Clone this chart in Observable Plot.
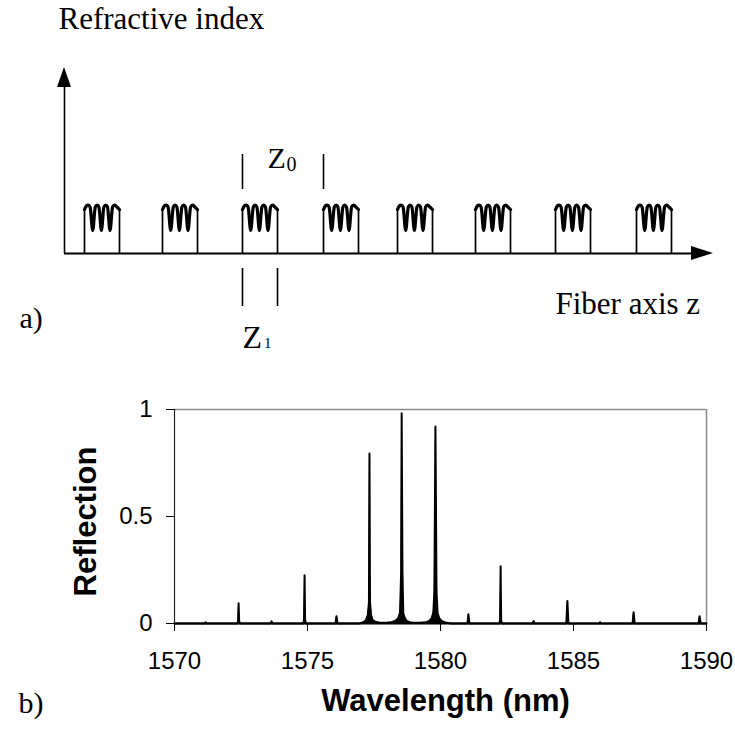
<!DOCTYPE html>
<html><head><meta charset="utf-8">
<script src="https://cdn.jsdelivr.net/npm/d3@7"></script>
<script src="https://cdn.jsdelivr.net/npm/@observablehq/plot@0.6"></script>
<style>
body{margin:0;background:#fff}
#wrap{position:relative;width:735px;height:737px;background:#fff}
#wrap svg{display:block}
</style>
</head><body><div id="wrap"></div>
<script>
// ---------- schematic data (a) ----------
const gratingStart = [20, 98, 178, 259, 333, 411, 491, 572];
const gratingLength = 35;           // Z1
const waveDx    = [0, 1.8, 3.8, 5.6, 8.2, 10.8, 12.6, 14.4, 16.9, 19.4, 21.2, 23, 25.5, 28.1, 30, 31.9, 35];
const waveLevel = [44, 47.5, 48.5, 46.5, 23, 46.5, 48.5, 46.5, 23, 46.5, 48.5, 46.5, 23, 46.5, 48.5, 47, 44];

// ---------- spectrum data (b) ----------
const wavelength = [
  1570.00,
  1571.13, 1571.17, 1571.21,
  1572.36, 1572.39, 1572.41, 1572.43, 1572.46,
  1573.61, 1573.65, 1573.69,
  1574.84, 1574.87, 1574.89, 1574.91, 1574.94,
  1576.05, 1576.09, 1576.13,
  1576.95, 1577.10, 1577.20, 1577.27, 1577.31, 1577.33, 1577.35, 1577.39, 1577.45, 1577.55, 1577.72,
  1577.95, 1578.15, 1578.30, 1578.41, 1578.48, 1578.52, 1578.54, 1578.57, 1578.60, 1578.62, 1578.66, 1578.73, 1578.84, 1578.98, 1579.20,
  1579.45, 1579.58, 1579.67, 1579.73, 1579.77, 1579.81, 1579.85, 1579.89, 1579.95, 1580.04, 1580.18, 1580.40,
  1581.01, 1581.05, 1581.09,
  1582.21, 1582.24, 1582.26, 1582.28, 1582.31,
  1583.46, 1583.50, 1583.54,
  1584.73, 1584.77, 1584.81,
  1585.96, 1586.00, 1586.04,
  1587.22, 1587.26, 1587.30,
  1589.70, 1589.74, 1589.78,
  1590.00
];
const reflection = [
  0,
  0, 0.006, 0,
  0, 0.012, 0.095, 0.012, 0,
  0, 0.010, 0,
  0, 0.018, 0.226, 0.018, 0,
  0, 0.034, 0,
  0, 0.006, 0.016, 0.040, 0.100, 0.794, 0.100, 0.040, 0.016, 0.008, 0.004,
  0.004, 0.006, 0.012, 0.025, 0.050, 0.240, 0.982, 0.240, 0.050, 0.040, 0.025, 0.012, 0.006, 0.004, 0.004,
  0.006, 0.012, 0.025, 0.050, 0.150, 0.920, 0.150, 0.050, 0.025, 0.012, 0.005, 0,
  0, 0.043, 0,
  0, 0.015, 0.268, 0.015, 0,
  0, 0.012, 0,
  0, 0.105, 0,
  0, 0.006, 0,
  0, 0.053, 0,
  0, 0.034, 0,
  0
];
const xTicks = [1570, 1575, 1580, 1585, 1590];
const yTicks = [0, 0.5, 1];

const serif = "'Liberation Serif', 'Times New Roman', serif";
const sans = "'Liberation Sans', Arial, sans-serif";

// ---------- (a) schematic ----------
const waveRows = gratingStart.flatMap((s, g) => waveDx.map((dx, i) => ({g, z: s + dx, n: waveLevel[i]})));
const legs = gratingStart.flatMap(s => [s, s + gratingLength]);
const zMax = 650, nMax = 186;

const topPlot = Plot.plot({
  width: 735, height: 360, margin: 0,
  style: {background: "white", color: "black"},
  x: {domain: [0, zMax], range: [64, 714], axis: null},
  y: {domain: [0, nMax], range: [253, 67], axis: null},
  marks: [
    Plot.ruleY([0], {x1: 0, x2: zMax - 20, stroke: "black", strokeWidth: 2}),
    Plot.ruleX([0], {y1: 0, y2: nMax - 18, stroke: "black", strokeWidth: 1.6}),
    Plot.areaY([{z: zMax - 23, a: -7, b: 7}, {z: zMax - 1, a: 0, b: 0}], {x: "z", y1: "a", y2: "b", fill: "black"}),
    Plot.areaX([{n: nMax - 20, a: -7, b: 7}, {n: nMax, a: 0, b: 0}], {y: "n", x1: "a", x2: "b", fill: "black"}),
    Plot.ruleX(legs, {y1: 0, y2: 44, stroke: "black", strokeWidth: 1.7}),
    Plot.line(waveRows, {x: "z", y: "n", z: "g", curve: "monotone-x", stroke: "black", strokeWidth: 3.2}),
    Plot.ruleX([gratingStart[2], gratingStart[3]], {y1: 64, y2: 99, stroke: "black", strokeWidth: 1.6}),
    Plot.ruleX([gratingStart[2], gratingStart[2] + gratingLength], {y1: -15, y2: -53, stroke: "black", strokeWidth: 1.6}),
    Plot.text(["Refractive index"], {x: -6, y: 225, text: d => d, textAnchor: "start", lineAnchor: "bottom", fontSize: 31, fontFamily: serif}),
    Plot.text(["Z"], {x: 203, y: 86, text: d => d, textAnchor: "start", lineAnchor: "bottom", fontSize: 30, fontFamily: serif}),
    Plot.text(["0"], {x: 222, y: 83, text: d => d, textAnchor: "start", lineAnchor: "bottom", fontSize: 20, fontFamily: serif}),
    Plot.text(["Z"], {x: 178, y: -94, text: d => d, textAnchor: "start", lineAnchor: "bottom", fontSize: 32, fontFamily: serif}),
    Plot.text(["1"], {x: 199.5, y: -94, text: d => d, textAnchor: "start", lineAnchor: "bottom", fontSize: 15, fontFamily: serif}),
    Plot.text(["Fiber axis z"], {x: 491, y: -60, text: d => d, textAnchor: "start", lineAnchor: "bottom", fontSize: 31, fontFamily: serif}),
    Plot.text(["a)"], {x: -45, y: -74, text: d => d, textAnchor: "start", lineAnchor: "bottom", fontSize: 30, fontFamily: serif})
  ]
});

// ---------- (b) spectrum ----------
const spectrum = wavelength.map((w, i) => ({w, r: reflection[i]}));
const bottomPlot = Plot.plot({
  width: 735, height: 377,
  marginTop: 49, marginBottom: 114, marginLeft: 174, marginRight: 29,
  style: {fontFamily: sans, fontSize: "24px", color: "black", background: "white"},
  x: {domain: [1570, 1590]},
  y: {domain: [0, 1]},
  marks: [
    Plot.ruleY([1], {stroke: "#8c8c8c", strokeWidth: 1.5}),
    Plot.ruleX([1590], {stroke: "#8c8c8c", strokeWidth: 1.5}),
    Plot.areaY(spectrum, {x: "w", y: "r", fill: "black"}),
    Plot.line(spectrum, {x: "w", y: "r", stroke: "black", strokeWidth: 2}),
    Plot.axisY({ticks: yTicks, tickSize: 8, tickPadding: 14, tickFormat: d => String(d), label: null}),
    Plot.axisX({ticks: xTicks, tickSize: 8, tickPadding: 20, tickFormat: d => String(d), label: null}),
    Plot.ruleX([1570], {stroke: "#222", strokeWidth: 1.2}),
    Plot.ruleY([0], {stroke: "black", strokeWidth: 2.2}),
    Plot.text(["Reflection"], {frameAnchor: "left", dx: -88, dy: 5, rotate: -90, textAnchor: "middle", lineAnchor: "middle", text: d => d, fontWeight: "bold", fontSize: 31, fontFamily: sans}),
    Plot.text(["Wavelength (nm)"], {frameAnchor: "bottom", dx: 5, dy: 87, lineAnchor: "bottom", text: d => d, fontWeight: "bold", fontSize: 31, fontFamily: sans}),
    Plot.text(["b)"], {frameAnchor: "bottom-left", dx: -156, dy: 89, textAnchor: "start", lineAnchor: "bottom", text: d => d, fontSize: 30, fontFamily: serif})
  ]
});

const wrap = document.getElementById("wrap");
wrap.appendChild(topPlot);
wrap.appendChild(bottomPlot);
</script>
</body></html>
